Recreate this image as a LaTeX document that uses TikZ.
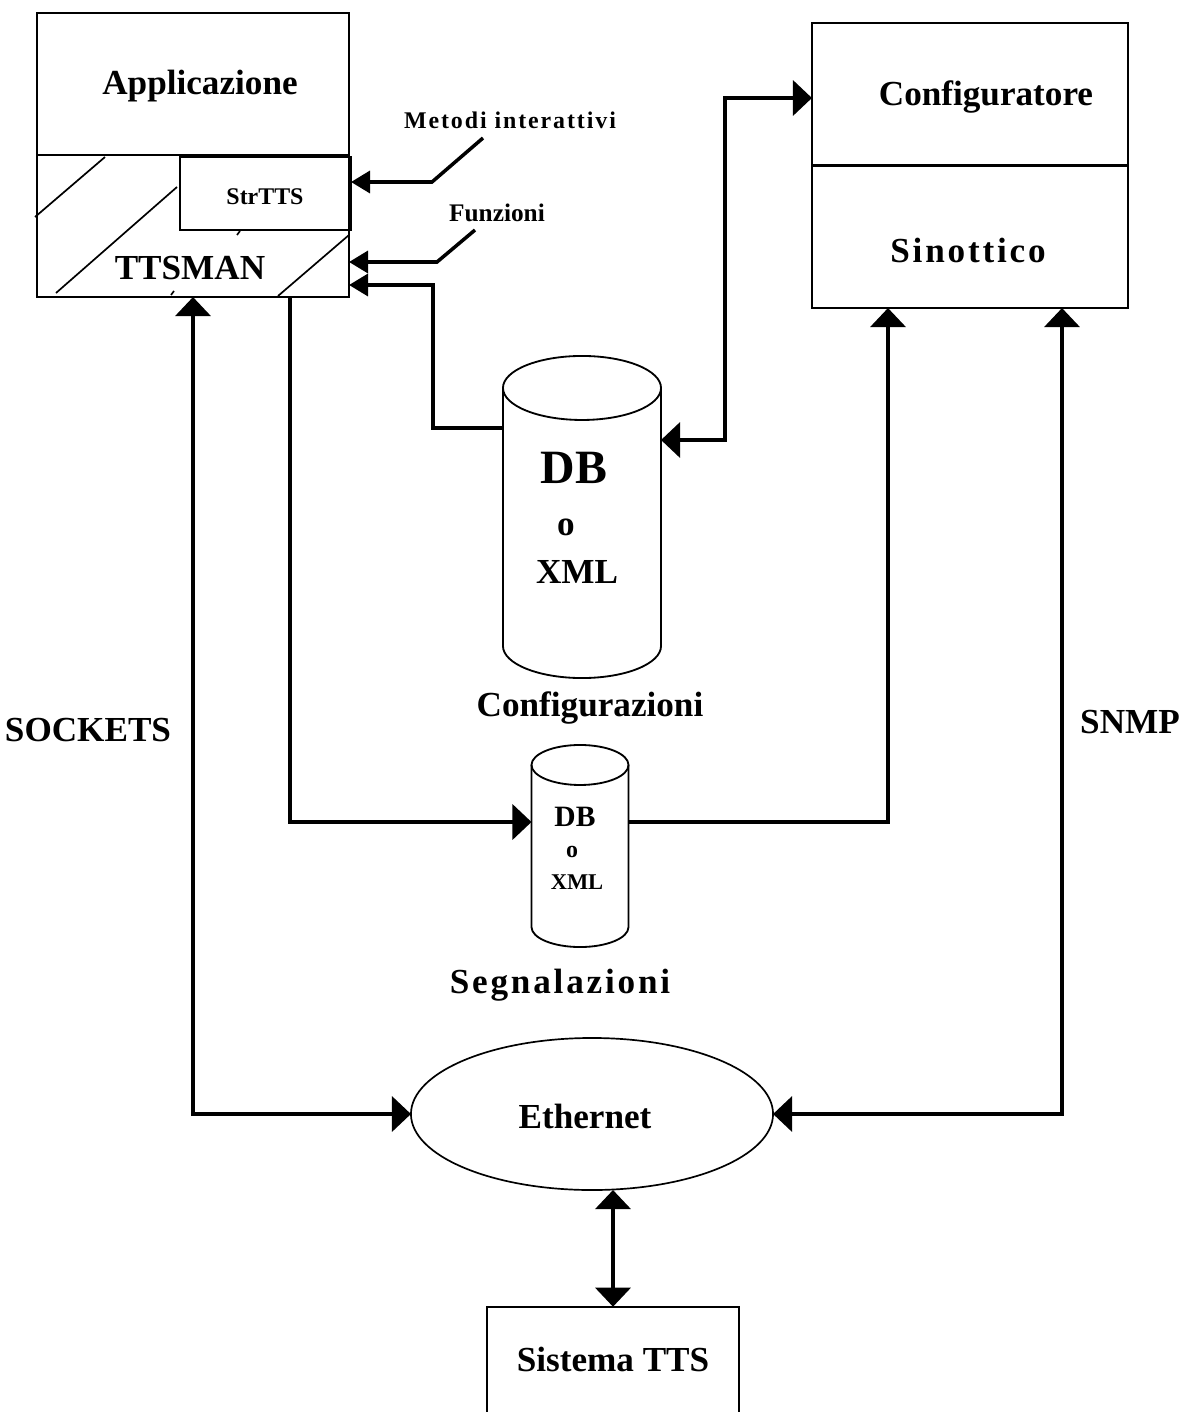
\documentclass[tikz,border=0pt]{standalone}
\usepackage{amssymb,amsmath}
\usepackage{xcolor}
\usepackage{fontspec}
\setmainfont{Liberation Serif}
\newfontfamily\spaced[LetterSpace=8]{Liberation Serif}
\usepackage{tikz}
\usetikzlibrary{arrows.meta,shapes}

\tikzset{
  box/.style={draw, line width=1.2pt, inner sep=0pt, outer sep=0pt},
  body/.style={inner sep=0pt, outer sep=0pt},
  cyl/.style={line width=1.3pt},
  conn/.style={line width=2.5pt, -{Triangle[length=0.475cm,width=0.875cm]}},
  conns/.style={line width=2.5pt, -{Triangle[length=0.475cm,width=0.55cm]}},
  conn2/.style={line width=2.5pt, {Triangle[length=0.475cm,width=0.875cm]}-{Triangle[length=0.475cm,width=0.875cm]}},
  hatch/.style={line width=1.2pt},
  big/.style={font=\bfseries\fontsize{25}{30}\selectfont},
  mid/.style={font=\bfseries\fontsize{18}{22}\selectfont},
}

\begin{document}
\begin{tikzpicture}[x=0.025cm,y=-0.025cm]
        \useasboundingbox (0,0) rectangle (1182,1412);
        % Applicazione / TTSMAN
        \node[box, minimum width=7.8cm, minimum height=7.1cm] (app) at (193,155) {};
        \draw[line width=1.4pt] (app.west) -- (app.east);
        \node[box, minimum width=4.275cm, minimum height=1.825cm] (strtts) at (265.5,193.5) {};
        \draw[hatch] (35,217) -- (105,157);
        \draw[hatch] (56,293) -- (177,187);
        \draw[hatch] (278,296) -- (349,235);
        \draw[hatch] (237,235) -- (240,231);
        \draw[hatch] (171,295) -- (174,291);
        \node[big] (applbl) at (200,86) {Applicazione};
        \node[font=\bfseries\fontsize{17}{20}\selectfont] (strlbl) at (265,197) {StrTTS};
        \node[big] (ttsman) at (190,268) {TTSMAN};
        \node[font=\bfseries\spaced\fontsize{17}{20}\selectfont] (metodi) at (510,120) {Metodi interattivi};
        \node[mid] (funzioni) at (497,213) {Funzioni};
        % Configuratore / Sinottico
        \node[box, minimum width=7.9cm, minimum height=7.125cm] (conf) at (970,165.5) {};
        \draw[line width=1.6pt] (conf.west) -- (conf.east);
        \node[big] (conflbl) at (986,97) {Configuratore};
        \node[font=\bfseries\spaced\fontsize{25}{30}\selectfont] (sinlbl) at (968,250) {Sinottico};
        % archivi
        \node[body, minimum width=3.95cm, minimum height=6.45cm] (cfgdb) at (582,517) {};
        \draw[cyl] (cfgdb.north west) -- (cfgdb.south west)
            arc[start angle=180, end angle=360, x radius=1.975cm, y radius=0.8cm] -- (cfgdb.north east);
        \draw[cyl] (cfgdb.north) ellipse[x radius=1.975cm, y radius=0.8cm];
        \node[font=\bfseries\fontsize{34}{40}\selectfont] (db1) at (574,468) {DB};
        \node[big] (o1) at (566,527) {o};
        \node[big] (xml1) at (577,572) {XML};
        \node[big] (cfglbl) at (590,708) {Configurazioni};
        \node[body, minimum width=2.425cm, minimum height=4.05cm] (sigdb) at (580,846) {};
        \draw[cyl] (sigdb.north west) -- (sigdb.south west)
            arc[start angle=180, end angle=360, x radius=1.2125cm, y radius=0.5cm] -- (sigdb.north east);
        \draw[cyl] (sigdb.north) ellipse[x radius=1.2125cm, y radius=0.5cm];
        \node[font=\bfseries\fontsize{21}{25}\selectfont] (db2) at (575,817) {DB};
        \node[font=\bfseries\fontsize{17}{20}\selectfont] (o2) at (572,852) {o};
        \node[font=\bfseries\fontsize{16}{20}\selectfont] (xml2) at (577,882) {XML};
        \node[font=\bfseries\spaced\fontsize{25}{30}\selectfont] (siglbl) at (560,985) {Segnalazioni};
        % rete
        \node[draw, ellipse, line width=1.2pt, inner sep=0pt, outer sep=0pt, minimum width=9.05cm, minimum height=3.8cm] (eth) at (592,1114) {};
        \node[big] (ethlbl) at (585,1116) {Ethernet};
        \node[inner sep=0pt, minimum width=6.3cm, minimum height=2.625cm, big] (sys) at (613,1359.5) {Sistema TTS};
        \draw[line width=1.2pt] (sys.south west) |- (sys.north east) -- (sys.south east);
        \node[big] (sockets) at (88,730) {SOCKETS};
        \node[big] (snmp) at (1130,722) {SNMP};
        % collegamenti
        \coordinate (mtail) at (483,138);
        \coordinate (mbend) at (432,182);
        \draw[conns] (mtail) -- (mbend) -- (mbend -| strtts.east);
        \coordinate (ftail) at (475,230);
        \coordinate (fbend) at (437,262);
        \draw[conns] (ftail) -- (fbend) -- (fbend -| app.east);
        \coordinate (dbbend) at (433,285);
        \draw[conns] (cfgdb.west |- 0,428) -| (dbbend) -- (dbbend -| app.east);
        \coordinate (cbend) at (725,98);
        \draw[conn2] (cfgdb.east |- 0,440) -| (cbend) -- (cbend -| conf.west);
        \draw[conn] (app.south -| 290,0) |- (sigdb.west |- 0,822);
        \draw[conn] (sigdb.east |- 0,822) -| (conf.south -| 888,0);
        \draw[conn2] (app.south) |- (eth.west);
        \draw[conn2] (conf.south -| 1062,0) |- (eth.east);
        \draw[conn2] (eth.south -| sys.north) -- (sys.north);
\end{tikzpicture}
\end{document}
